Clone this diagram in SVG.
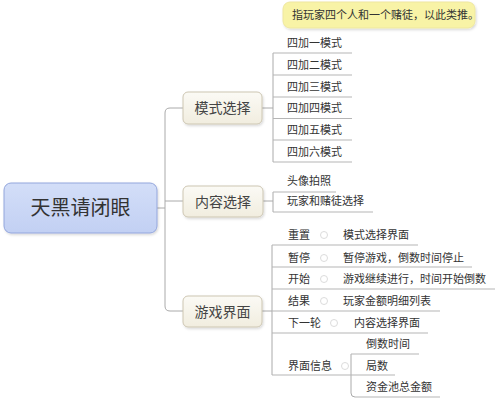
<svg xmlns="http://www.w3.org/2000/svg" width="500" height="408" viewBox="0 0 500 408">
<defs>
<filter id="sh" x="-10%" y="-10%" width="130%" height="140%">
<feDropShadow dx="1" dy="1.5" stdDeviation="1.2" flood-color="#000" flood-opacity="0.15"/>
</filter>
<linearGradient id="gb" x1="0" y1="0" x2="0" y2="1">
<stop offset="0" stop-color="#fbfaf5"/>
<stop offset="1" stop-color="#f1eddf"/>
</linearGradient>
<linearGradient id="gc" x1="0" y1="0" x2="0" y2="1">
<stop offset="0" stop-color="#d3def8"/>
<stop offset="1" stop-color="#c2d0f3"/>
</linearGradient>
</defs>
<style>
text{font-family:"Noto Sans CJK SC","Noto Sans",sans-serif;fill:#333;}
.leaf{font-size:11px;}
.br{font-size:14px;fill:#444;}
.ln{fill:none;stroke:#aaa;stroke-width:1;}
.ul{fill:none;stroke:#b5b5b5;stroke-width:1;}
.node{fill:url(#gb);stroke:#cdc6b2;stroke-width:1;filter:url(#sh);}
.mk{fill:none;stroke:#dcdcdc;stroke-width:1;}
</style>

<g id="connectors">
<path class="ln" d="M157,208 H165"/>
<path class="ln" d="M183,108 H170 Q165,108 165,113 V306 Q165,311 170,311 H183"/>
<path class="ln" d="M165,201 H183"/>
<path class="ln" d="M262,108 H273"/>
<path class="ln" d="M273,53 V162"/>
<path class="ln" d="M263,201 H273"/>
<path class="ln" d="M273,192 V212"/>
<path class="ln" d="M262,311 H272"/>
<path class="ln" d="M272,245 V375"/>
<path class="ln" d="M351,354 V393 Q351,397 355,397"/>
</g>

<g id="center">
<rect x="4" y="183" width="153" height="50" rx="7" fill="url(#gc)" stroke="#93a6dc" stroke-width="1" filter="url(#sh)"/>
<text x="80.5" y="215" font-size="20" text-anchor="middle" fill="#3a3a4a">天黑请闭眼</text>
</g>

<g id="callout">
<rect x="283" y="2" width="192" height="26" rx="7" fill="#f8f3a6" stroke="#eee7a0" stroke-width="1" filter="url(#sh)"/>
<text class="leaf" x="292" y="18.5">指玩家四个人和一个赌徒，以此类推。</text>
</g>

<g id="mode">
<rect class="node" x="183" y="92" width="79" height="32" rx="5"/>
<text class="br" x="222.5" y="113" text-anchor="middle">模式选择</text>
</g>
<g id="mode-children">
<path class="ul" d="M273,53 H352 M273,75 H352 M273,97 H352 M273,118.5 H352 M273,140 H352 M273,162 H352"/>
<text class="leaf" x="287" y="47">四加一模式</text>
<text class="leaf" x="287" y="68.5">四加二模式</text>
<text class="leaf" x="287" y="90.5">四加三模式</text>
<text class="leaf" x="287" y="112">四加四模式</text>
<text class="leaf" x="287" y="133.5">四加五模式</text>
<text class="leaf" x="287" y="155.5">四加六模式</text>
</g>

<g id="content">
<rect class="node" x="183" y="186" width="80" height="31" rx="5"/>
<text class="br" x="223" y="206.5" text-anchor="middle">内容选择</text>
</g>
<g id="content-children">
<path class="ul" d="M273,192 H336 M273,212 H373"/>
<text class="leaf" x="287" y="185">头像拍照</text>
<text class="leaf" x="287" y="205">玩家和赌徒选择</text>
</g>

<g id="game">
<rect class="node" x="183" y="296" width="79" height="31" rx="5"/>
<text class="br" x="222.5" y="316.5" text-anchor="middle">游戏界面</text>
</g>
<g id="game-children">
<path class="ul" d="M272,245 H418 M272,267 H472 M272,289 H495 M272,311 H440 M272,333 H428 M272,375 H395 M351,354 H419 M355,397 H440"/>
<g class="mk">
<circle cx="324" cy="235" r="3.5"/><circle cx="324" cy="258" r="3.5"/><circle cx="324" cy="279" r="3.5"/><circle cx="324" cy="301" r="3.5"/><circle cx="334" cy="323" r="3.5"/><circle cx="345" cy="366" r="3.5"/>
</g>
<text class="leaf" x="288" y="239">重置</text>
<text class="leaf" x="343" y="239">模式选择界面</text>
<text class="leaf" x="288" y="261.5">暂停</text>
<text class="leaf" x="343" y="261.5">暂停游戏，倒数时间停止</text>
<text class="leaf" x="288" y="283">开始</text>
<text class="leaf" x="343" y="283">游戏继续进行，时间开始倒数</text>
<text class="leaf" x="288" y="305">结果</text>
<text class="leaf" x="343" y="305">玩家金额明细列表</text>
<text class="leaf" x="288" y="327">下一轮</text>
<text class="leaf" x="354" y="327">内容选择界面</text>
<text class="leaf" x="288" y="370">界面信息</text>
<text class="leaf" x="366" y="348">倒数时间</text>
<text class="leaf" x="366" y="369.5">局数</text>
<text class="leaf" x="366" y="391">资金池总金额</text>
</g>
</svg>
